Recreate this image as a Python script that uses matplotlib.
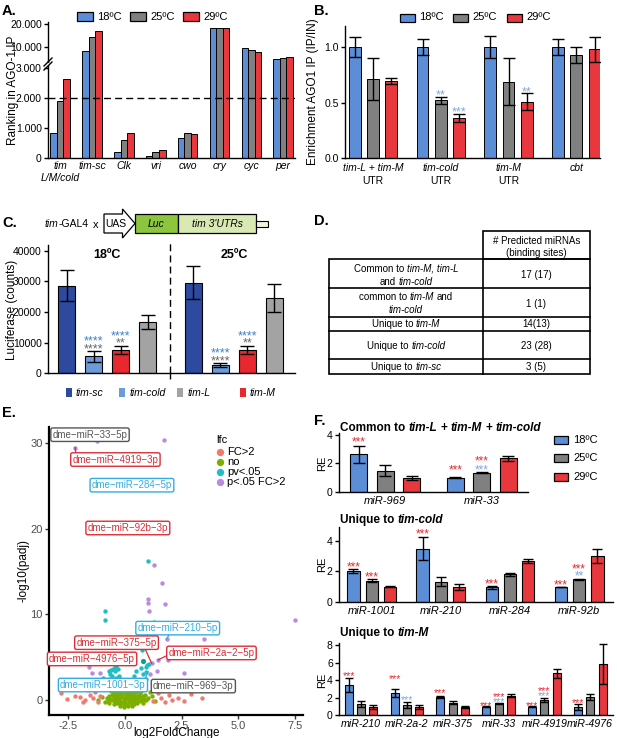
import matplotlib
matplotlib.use('Agg')
import matplotlib.pyplot as plt
from matplotlib.patches import Rectangle, Polygon
import numpy as np

plt.rcParams['font.family'] = ['Liberation Sans', 'DejaVu Sans']
plt.rcParams['axes.unicode_minus'] = False

# ---------------- data ----------------
temps = ['18ºC', '25ºC', '29ºC']

A_genes = ['tim\nL/M/cold', 'tim-sc', 'Clk', 'vri', 'cwo', 'cry', 'cyc', 'per']
A_18 = [847, 8530, 224, 78, 688, 18350, 9730, 4820]
A_25 = [1885, 14460, 620, 214, 834, 18350, 8970, 5400]
A_29 = [2620, 17320, 834, 271, 800, 18350, 8080, 5710]

B_groups = [[('tim-L + tim-M', True)], [('tim-cold', True)], [('tim-M', True)], [('cbt', True)]]
B_18 = [1.0, 1.0, 1.0, 1.0]
B_18_err = [0.09, 0.07, 0.10, 0.07]
B_25 = [0.71, 0.52, 0.69, 0.93]
B_25_err = [0.19, 0.03, 0.21, 0.07]
B_29 = [0.695, 0.365, 0.51, 0.98]
B_29_err = [0.025, 0.035, 0.08, 0.11]
B_stars = [(1, 1, '**', 0.60), (1, 2, '***', 0.45), (2, 2, '**', 0.63)]

C_constructs = ['tim-sc', 'tim-cold', 'tim-M', 'tim-L']
C_18 = [28500, 5500, 7700, 16800]
C_18_err = [5000, 1900, 1300, 2300]
C_25 = [29500, 2700, 7600, 24500]
C_25_err = [5300, 600, 1300, 4500]
C_stars = [  # (temp index, construct index, text, color key, y)
    (0, 1, '****', 'b', 11500), (0, 1, '****', 'g', 8900),
    (0, 2, '****', 'b', 13200), (0, 2, '**', 'g', 10850),
    (1, 1, '****', 'b', 7600), (1, 1, '****', 'g', 5000),
    (1, 2, '****', 'b', 13200), (1, 2, '**', 'g', 10950),
]

D_header = ['# Predicted miRNAs', '(binding sites)']
D_rows = [
    ([[('Common to ', False), ('tim-M, tim-L', True)], [('and ', False), ('tim-cold', True)]], '17 (17)'),
    ([[('common to ', False), ('tim-M', True), (' and', False)], [('tim-cold', True)]], '1 (1)'),
    ([[('Unique to ', False), ('tim-M', True)]], '14(13)'),
    ([[('Unique to ', False), ('tim-cold', True)]], '23 (28)'),
    ([[('Unique to ', False), ('tim-sc', True)]], '3 (5)'),
]

E_no = [(-0.1, 1.45), (0.12, 1.5), (0.3, 1.35), (-0.3, 1.15), (-0.18, 1.2), (0.02, 1.1), (0.2, 1.18),
        (0.38, 1.05), (0.52, 1.2), (-0.5, 0.85), (-0.38, 0.95), (-0.22, 0.8), (-0.08, 0.9), (0.08, 0.78),
        (0.24, 0.92), (0.36, 0.75), (0.5, 0.88), (0.66, 0.8), (-0.68, 0.5), (-0.56, 0.6), (-0.42, 0.45),
        (-0.27, 0.58), (-0.12, 0.48), (0.04, 0.55), (0.19, 0.45), (0.33, 0.6), (0.47, 0.5), (0.61, 0.57),
        (0.78, 0.45), (0.9, 0.62), (-0.8, 0.22), (-0.64, 0.15), (-0.5, 0.25), (-0.33, 0.18), (-0.2, 0.28),
        (-0.05, 0.15), (0.1, 0.25), (0.26, 0.18), (0.41, 0.27), (0.55, 0.16), (0.7, 0.24), (0.86, 0.15),
        (1.02, 0.25), (-0.74, -0.12), (-0.58, -0.05), (-0.44, -0.15), (-0.29, -0.08), (-0.14, -0.18),
        (0.01, -0.06), (0.16, -0.14), (0.31, -0.04), (0.46, -0.12), (0.6, -0.07), (0.76, -0.15),
        (0.92, -0.05), (-0.5, -0.42), (-0.35, -0.35), (-0.2, -0.45), (-0.05, -0.38), (0.1, -0.48),
        (0.25, -0.4), (0.4, -0.44), (0.55, -0.36), (-0.22, -0.72), (-0.02, -0.8), (0.14, -0.7),
        (0.3, -0.75), (-1.02, 0.32), (-1.18, 0.02), (1.18, 0.42), (1.33, -0.08), (-0.9, -0.28),
        (1.1, 0.92), (0.0, 1.75), (0.22, 1.65), (-0.4, 1.3), (0.7, 1.1), (-0.6, 1.0),
        (-0.15, 0.65), (0.15, 0.62), (0.42, 1.5), (-0.25, 0.02), (0.05, 0.35), (0.35, -0.22),
        (-0.4, 0.7), (0.62, 0.35), (0.82, -0.35), (-0.7, -0.4), (0.48, 1.0), (-0.05, -0.6)]
E_fc2 = [(-2.84, 0.8), (-1.55, 0.6), (-1.4, 0.2), (-1.75, 0.0), (-1.2, -0.2), (-2.0, 0.3), (-2.2, 0.5),
         (-2.55, 0.1), (-1.85, -0.2), (-1.3, 0.9), (-1.1, 0.5), (1.45, 0.8), (1.6, 0.2), (1.95, 0.6),
         (2.1, 0.0), (1.25, -0.1), (1.75, -0.2), (2.9, 0.7), (3.4, 0.2), (2.35, 0.2), (1.3, 1.2),
         (2.6, -0.1), (-1.65, 1.2)]
E_pv = [(1.0, 16.3), (-0.87, 10.4), (-0.87, 9.3), (1.28, 9.1), (1.22, 7.2), (0.74, 5.9), (0.98, 4.1),
        (1.05, 4.2), (0.95, 3.9), (-0.38, 4.0), (-0.45, 3.8), (-0.52, 3.6), (-0.6, 3.5), (-0.7, 3.4),
        (-0.42, 3.4), (-0.32, 3.6), (-0.65, 3.0), (-0.55, 2.8), (-0.4, 2.6), (-0.28, 2.8), (-0.2, 2.4),
        (-0.72, 2.4), (-0.5, 2.2), (0.81, 3.0), (0.95, 2.5), (0.66, 2.0), (0.5, 3.4), (0.95, 3.3),
        (-0.95, 2.6), (-0.85, 2.2), (-1.0, 1.9), (-0.3, 2.0), (0.4, 2.8), (0.72, 3.7)]
E_pv_dark = [(0.78, 4.6)]
E_both = [(-1.22, 30.3), (1.74, 30.4), (-2.2, 29.5), (1.28, 15.8), (1.62, 13.7), (1.03, 11.8), (1.0, 11.3),
          (1.76, 11.2), (1.07, 10.4), (7.5, 9.3), (1.84, 7.1), (3.51, 7.1), (1.47, 4.7), (1.91, 4.7),
          (1.18, 4.3), (-1.57, 3.9), (1.4, 3.4), (2.62, 3.1), (-1.47, 3.1), (1.12, 3.0), (-1.1, 3.2)]
E_labels = [  # text, label x, label y, colour key, segment (x0, y0, x1, y1) or None
    ('dme-miR-33-5p', -1.54, 31.0, 'k', None),
    ('dme-miR-4919-3p', -0.42, 28.1, 'r', (-2.2, 29.5, -2.15, 28.6)),
    ('dme-miR-284-5p', 0.31, 25.1, 'b', None),
    ('dme-miR-92b-3p', 0.13, 20.1, 'r', None),
    ('dme-miR-210-5p', 2.33, 8.4, 'b', (1.84, 7.1, 2.0, 7.9)),
    ('dme-miR-375-5p', -0.37, 6.7, 'r', (0.85, 6.2, 1.18, 4.3)),
    ('dme-miR-2a-2-5p', 3.82, 5.5, 'r', (1.47, 4.7, 1.94, 5.3)),
    ('dme-miR-4976-5p', -1.45, 4.8, 'r', None),
    ('dme-miR-1001-3p', -0.97, 1.75, 'b', (0.8, 2.0, 1.03, 3.3)),
    ('dme-miR-969-3p', 3.02, 1.63, 'k', None),
]

F1_genes = ['miR-969', 'miR-33']
F1_18 = [2.65, 0.98]; F1_18_err = [0.6, 0.03]
F1_25 = [1.48, 1.35]; F1_25_err = [0.4, 0.04]
F1_29 = [0.98, 2.35]; F1_29_err = [0.12, 0.15]
F1_stars = [(0, 0, '***', 'r', 3.70), (1, 0, '***', 'r', 1.76), (1, 1, '***', 'r', 2.36), (1, 1, '***', 'b', 1.76)]

F2_genes = ['miR-1001', 'miR-210', 'miR-284', 'miR-92b']
F2_18 = [2.02, 3.5, 0.95, 0.98]; F2_18_err = [0.12, 0.75, 0.08, 0.02]
F2_25 = [1.38, 1.32, 1.8, 1.48]; F2_25_err = [0.1, 0.3, 0.1, 0.05]
F2_29 = [0.98, 0.95, 2.7, 3.03]; F2_29_err = [0.03, 0.2, 0.12, 0.47]
F2_stars = [(0, 0, '***', 'r', 2.47), (0, 1, '***', 'r', 1.83), (1, 0, '***', 'r', 4.68),
            (2, 0, '***', 'r', 1.38), (3, 0, '***', 'r', 1.28), (3, 1, '***', 'r', 2.35), (3, 1, '**', 'b', 1.87)]

F3_genes = ['miR-210', 'miR-2a-2', 'miR-375', 'miR-33', 'miR-4919', 'miR-4976']
F3_18 = [3.43, 2.55, 2.1, 0.95, 0.95, 0.95]; F3_18_err = [0.8, 0.45, 0.1, 0.03, 0.08, 0.35]
F3_25 = [1.26, 1.14, 1.4, 1.33, 1.7, 2.1]; F3_25_err = [0.3, 0.35, 0.15, 0.04, 0.2, 0.35]
F3_29 = [0.88, 0.9, 0.95, 2.2, 4.76, 5.85]; F3_29_err = [0.25, 0.25, 0.1, 0.15, 0.5, 2.25]
F3_stars = [(0, 0, '***', 'r', 4.77), (1, 0, '***', 'r', 4.46), (1, 1, '***', 'b', 1.98),
            (2, 0, '***', 'r', 2.78), (3, 0, '***', 'r', 1.37), (3, 1, '***', 'r', 2.4), (3, 1, '***', 'b', 1.83),
            (4, 0, '***', 'r', 1.37), (4, 1, '***', 'r', 3.05), (4, 1, '***', 'b', 2.48), (5, 0, '***', 'r', 1.63)]

# ---------------- style ----------------
C18, C25, C29 = '#5b8ed6', '#808080', '#e8383d'
TCOL = [C18, C25, C29]
C_COLS = ['#2e4a9e', '#6b9bd8', '#e8282e', '#a3a3a3']
STAR_R, STAR_B = '#e8282e', '#7ea6dc'
E_COLS = {'fc2': '#F07A6D', 'no': '#7CAE00', 'pv': '#1DBFC4', 'both': '#B98AE0'}
LAB_COLS = {'r': '#dd2d36', 'b': '#35ace0', 'k': '#555555'}

W, H = 617, 738
fig = plt.figure(figsize=(W / 100, H / 100), dpi=100)
ov = fig.add_axes([0, 0, 1, 1], zorder=20)
ov.set_xlim(0, W); ov.set_ylim(H, 0); ov.axis('off')
renderer = fig.canvas.get_renderer()


def add_ax(l, t, r, b):
    return fig.add_axes([l / W, 1 - b / H, (r - l) / W, (b - t) / H])


def style(ax, lw=1.0, size=7.5):
    for s in ['top', 'right']:
        ax.spines[s].set_visible(False)
    for s in ['left', 'bottom']:
        ax.spines[s].set_linewidth(lw)
    ax.tick_params(labelsize=size, width=lw, length=3, pad=1.5)


def to_px(ax, x, y):
    d = ax.transData.transform((x, y))
    return d[0], H - d[1]


def text_w(s, **kw):
    t = ov.text(0, 0, s, **kw)
    w = t.get_window_extent(renderer).width
    t.remove()
    return w


def rich(x, y, pieces, ha='center', size=7, color='k', weight='normal'):
    kwb = dict(fontsize=size, color=color, fontweight=weight)
    items = []
    total = 0
    for s, it in pieces:
        st = 'italic' if it else 'normal'
        bar = text_w('||', fontstyle=st, **kwb)
        spw = text_w('| |', fontstyle=st, **kwb) - bar
        core = s.strip()
        lead = len(s) - len(s.lstrip())
        trail = len(s) - len(s.rstrip())
        cw = text_w('|' + core + '|', fontstyle=st, **kwb) - bar if core else 0
        items.append((core, st, lead * spw, cw, trail * spw))
        total += lead * spw + cw + trail * spw
    x0 = x - total / 2 if ha == 'center' else (x - total if ha == 'right' else x)
    for core, st, lw_, cw, tw_ in items:
        x0 += lw_
        if core:
            ov.text(x0, y, core, fontstyle=st, ha='left', va='baseline', **kwb)
        x0 += cw + tw_


def star(ax, x, y, s, color, size=8.5):
    ax.annotate(s, (x, y), xytext=(0, -0.55 * size), textcoords='offset points',
                ha='center', va='baseline', fontsize=size, color=color, annotation_clip=False)


def legend_boxes(xs, y, w, h, labels, colors, tx_off=4, size=8):
    for x, lab, c in zip(xs, labels, colors):
        ov.add_patch(Rectangle((x, y - h / 2), w, h, fc=c, ec='k', lw=0.9))
        ov.text(x + w + tx_off, y, lab, fontsize=size, va='center', ha='left')


# ---------------- panel labels ----------------
for lab, x, y in [('A.', 2, 15), ('B.', 314, 15), ('C.', 2, 227), ('D.', 314, 225),
                  ('E.', 2, 417), ('F.', 314, 425)]:
    ov.text(x, y, lab, fontsize=10.5, fontweight='bold', va='baseline')

# ---------------- Panel A ----------------
axA_lo = add_ax(48, 61, 295, 158.3)
axA_hi = add_ax(48, 22, 295, 61)
xA = np.arange(len(A_genes))
bwA = 0.205
for ax in (axA_lo, axA_hi):
    for k, vals in enumerate([A_18, A_25, A_29]):
        ax.bar(xA + (k - 1) * bwA, vals, bwA, color=TCOL[k], edgecolor='k', linewidth=0.7)
    ax.set_xlim(-0.38, 7.37)
    style(ax)
axA_lo.set_ylim(0, 3220)
axA_hi.set_ylim(4060, 21030)
axA_lo.axhline(2000, ls=(0, (5, 3)), color='k', lw=1)
axA_lo.set_yticks([0, 1000, 2000, 3000])
axA_lo.set_yticklabels(['0', '1.000', '2.000', '3.000'])
axA_hi.set_yticks([10000, 20000])
axA_hi.set_yticklabels(['10.000', '20.000'])
axA_hi.spines['bottom'].set_visible(False)
axA_hi.set_xticks([])
axA_lo.set_xticks(xA)
axA_lo.set_xticklabels(A_genes, fontstyle='italic', fontsize=7.5)
axA_lo.tick_params(axis='x', length=0, pad=2)
ov.plot([44, 52], [66, 58], color='k', lw=1)
ov.plot([44, 52], [70, 62], color='k', lw=1)
ov.add_patch(Rectangle((47.3, 62.5), 1.6, 3.5, fc='white', ec='none'))
ov.text(13, 90, 'Ranking in AGO-1 IP', rotation=90, fontsize=8.5, ha='center', va='center')
legend_boxes([77, 130, 183], 16.5, 16, 9, temps, TCOL, tx_off=4, size=8)

# ---------------- Panel B ----------------
axB = add_ax(345, 26, 600, 158.3)
style(axB)
xB = np.arange(len(B_18))
stepB, bwB = 0.27, 0.173
for k, (vals, errs) in enumerate([(B_18, B_18_err), (B_25, B_25_err), (B_29, B_29_err)]):
    axB.bar(xB + (k - 1) * stepB, vals, bwB, color=TCOL[k], edgecolor='k', linewidth=0.7)
    axB.errorbar(xB + (k - 1) * stepB, vals, yerr=errs, fmt='none', ecolor='k', elinewidth=1,
                 capsize=4.5, capthick=1)
for g, b, s, y in B_stars:
    star(axB, g + (b - 1) * stepB, y, s, STAR_B, size=9)
axB.set_xlim(-0.414, 3.35)
axB.set_ylim(0, 1.19)
axB.set_yticks([0, 0.5, 1.0])
axB.set_yticklabels(['0.0', '0.5', '1.0'])
axB.set_xticks(xB)
axB.set_xticklabels([''] * 4)
axB.tick_params(axis='x', length=0)
for g, pcs in enumerate(B_groups):
    px, _ = to_px(axB, g, 0)
    rich(px, 171, pcs, size=7.5)
    if g < 3:
        rich(px, 184, [('UTR', False)], size=7.5)
ov.text(313, 92, 'Enrichment AGO1 IP (IP/IN)', rotation=90, fontsize=8.5, ha='center', va='center')
legend_boxes([400, 453, 507], 17.5, 15, 8, temps, TCOL, tx_off=4, size=8)

# ---------------- Panel C ----------------
ov.add_patch(Polygon([(104, 214), (122.5, 214), (122.5, 209), (135, 223.5), (122.5, 238), (122.5, 233),
                      (104, 233)], closed=True, fc='white', ec='k', lw=0.9))
ov.add_patch(Rectangle((135, 214), 43, 19, fc='#8cc63e', ec='k', lw=0.9))
ov.add_patch(Rectangle((178, 214), 78, 19, fc='#d9e9b3', ec='k', lw=0.9))
ov.add_patch(Rectangle((256, 220.5), 12, 6, fc='#eef4dd', ec='k', lw=0.8))
ov.text(116, 227, 'UAS', fontsize=7.5, ha='center', va='baseline', zorder=5)
ov.text(156.5, 227, 'Luc', fontsize=7.5, ha='center', va='baseline', fontstyle='italic')
ov.text(217, 227, "tim 3'UTRs", fontsize=7.5, ha='center', va='baseline', fontstyle='italic')
rich(45, 227, [('tim', True), ('-GAL4', False)], ha='left', size=7.5)
ov.text(96, 228, 'x', fontsize=8, ha='center', va='baseline')

axC = add_ax(48, 245, 295, 373.3)
style(axC)
posC = [np.arange(4), np.arange(4) + 4.7]
for t, (vals, errs) in enumerate([(C_18, C_18_err), (C_25, C_25_err)]):
    axC.bar(posC[t], vals, 0.63, color=C_COLS, edgecolor='k', linewidth=0.8)
    axC.errorbar(posC[t], vals, yerr=errs, fmt='none', ecolor='k', elinewidth=1, capsize=5, capthick=1)
for t, ci, s, ck, y in C_stars:
    star(axC, posC[t][ci], y, s, '#3d7fc9' if ck == 'b' else '#666666', size=9)
axC.axvline(3.85, color='k', lw=1, ls=(0, (5, 3)), ymax=1.02, clip_on=False)
axC.set_xlim(-0.685, 8.46)
axC.set_ylim(0, 41800)
axC.set_yticks([0, 10000, 20000, 30000, 40000])
axC.set_xticks([3.85])
axC.set_xticklabels([''])
axC.tick_params(axis='x', length=4, direction='out')
axC.text(1.5, 38700, '18ºC', fontsize=9, fontweight='bold', ha='center', va='center')
axC.text(6.2, 38700, '25ºC', fontsize=9, fontweight='bold', ha='center', va='center')
ov.text(12, 310, 'Luciferase (counts)', rotation=90, fontsize=8.5, ha='center', va='center')
for x, lab, c in zip([65.5, 119, 177, 239.5], ['tim-sc', 'tim-cold', 'tim-L', 'tim-M'],
                     [C_COLS[0], C_COLS[1], C_COLS[3], C_COLS[2]]):
    ov.add_patch(Rectangle((x, 387.5), 6, 9, fc=c, ec='none'))
    ov.text(x + 10.5, 395.5, lab, fontsize=7.5, fontstyle='italic', va='baseline')

# ---------------- Panel D ----------------
tlw = 1.2
ov.add_patch(Rectangle((483.3, 231), 106.7, 28.3, fill=False, ec='k', lw=tlw))
ov.add_patch(Rectangle((329.3, 259.3), 260.7, 114.7, fill=False, ec='k', lw=tlw))
ov.plot([483.3, 483.3], [259.3, 374], color='k', lw=tlw)
for yl in [288.3, 316.7, 331, 359]:
    ov.plot([329.3, 590], [yl, yl], color='k', lw=tlw)
rich(536.5, 243.5, [(D_header[0], False)], size=7)
rich(536.5, 256.3, [(D_header[1], False)], size=7)
row_centers = [(268.3, 281.7), (296.7, 310), (324,), (345.7,), (366.3,)]
right_centers = [275, 303.3, 324, 345.7, 366.3]
for (lines, val), ys, yr in zip(D_rows, row_centers, right_centers):
    for pcs, yy in zip(lines, ys):
        rich(406, yy + 3.4, pcs, size=7)
    rich(536.5, yr + 3.4, [(val, False)], size=7)

# ---------------- Panel E ----------------
axE = add_ax(49, 427, 303, 715)
for s in ['top', 'right']:
    axE.spines[s].set_visible(False)
for s in ['left', 'bottom']:
    axE.spines[s].set_linewidth(1.6)
axE.tick_params(labelsize=8, labelcolor='#4d4d4d', width=1, length=3, color='#333333', pad=1.5)
ms = 10
for pts, key in [(E_no, 'no'), (E_fc2, 'fc2'), (E_pv, 'pv'), (E_both, 'both')]:
    arr = np.array(pts)
    axE.scatter(arr[:, 0], arr[:, 1], s=ms, color=E_COLS[key], linewidths=0, zorder=3)
arr = np.array(E_pv_dark)
axE.scatter(arr[:, 0], arr[:, 1], s=14, color='#00a39a', linewidths=0, zorder=3)
for txt, lx, ly, ck, seg in E_labels:
    col = LAB_COLS[ck]
    if seg is not None:
        axE.plot([seg[0], seg[2]], [seg[1], seg[3]], color=col, lw=0.9, zorder=4)
    axE.text(lx, ly, txt.replace('-', '\u2212'), fontsize=7, color=col, ha='center', va='center', zorder=5,
             bbox=dict(boxstyle='round,pad=0.18,rounding_size=0.2', fc='white', ec=col, lw=1.0))
axE.set_xlim(-3.35, 7.86)
axE.set_ylim(-1.75, 31.9)
axE.set_xticks([-2.5, 0, 2.5, 5.0, 7.5])
axE.set_xticklabels(['-2.5', '0.0', '2.5', '5.0', '7.5'])
axE.set_yticks([0, 10, 20, 30])
ov.text(176, 733, 'log2FoldChange', fontsize=8.5, ha='center', va='center')
ov.text(23, 571, '-log10(padj)', rotation=90, fontsize=8.5, ha='center', va='center')
ov.text(216, 440, 'lfc', fontsize=8, va='center', ha='left')
for yy, key, lab in [(451.7, 'fc2', 'FC>2'), (461.7, 'no', 'no'), (471.7, 'pv', 'pv<.05'),
                     (481.7, 'both', 'p<.05 FC>2')]:
    ov.scatter([220], [yy], s=28, color=E_COLS[key], linewidths=0)
    ov.text(227, yy, lab, fontsize=8, va='center', ha='left')


# ---------------- Panel F ----------------
def f_panel(t, b, r, genes, data, errs, stars, gap, bw, xl, ylim, yticks, cap, lab_size=8, star_size=8.5):
    ax = add_ax(339, t, r, b)
    style(ax)
    centers = np.arange(len(genes)) * gap
    for k in range(3):
        ax.bar(centers + (k - 1), data[k], bw, color=TCOL[k], edgecolor='k', linewidth=0.8)
        ax.errorbar(centers + (k - 1), data[k], yerr=errs[k], fmt='none', ecolor='k', elinewidth=1,
                    capsize=cap, capthick=1)
    for g, k, s, ck, y in stars:
        star(ax, centers[g] + (k - 1), y, s, STAR_R if ck == 'r' else STAR_B, size=star_size)
    ax.set_xlim(*xl)
    ax.set_ylim(*ylim)
    ax.set_yticks(yticks)
    ax.set_xticks(centers)
    ax.set_xticklabels(genes, fontstyle='italic', fontsize=lab_size)
    ax.tick_params(axis='x', length=0, pad=3)
    return ax


axF1 = f_panel(433, 491.7, 528, F1_genes, [F1_18, F1_25, F1_29], [F1_18_err, F1_25_err, F1_29_err],
               F1_stars, 3.66, 0.64, (-1.74, 5.4), (0, 4.14), [0, 2, 4], 4.5)
axF2 = f_panel(526.7, 601.7, 613, F2_genes, [F2_18, F2_25, F2_29], [F2_18_err, F2_25_err, F2_29_err],
               F2_stars, 3.78, 0.67, (-1.79, 13.19), (0, 4.95), [0, 2, 4], 3.5)
axF3 = f_panel(643.3, 715, 613, F3_genes, [F3_18, F3_25, F3_29], [F3_18_err, F3_25_err, F3_29_err],
               F3_stars, 3.73, 0.65, (-1.79, 20.5), (0, 8.2), [0, 2, 4, 6, 8], 3, lab_size=7.7,
               star_size=7.5)
for yy in [463, 564, 680]:
    ov.text(322, yy, 'RE', rotation=90, fontsize=8, ha='center', va='center')
rich(340, 431, [('Common to ', False), ('tim-L', True), (' + ', False), ('tim-M', True), (' + ', False),
                ('tim-cold', True)], ha='left', size=8.5, weight='bold')
rich(340, 523, [('Unique to ', False), ('tim-cold', True)], ha='left', size=8.5, weight='bold')
rich(340, 636, [('Unique to ', False), ('tim-M', True)], ha='left', size=8.5, weight='bold')
for yy, lab, c in zip([440, 458.3, 476.7], temps, TCOL):
    legend_boxes([554], yy, 14, 8, [lab], [c], tx_off=5, size=8)

fig.savefig('out.png', dpi=100)
